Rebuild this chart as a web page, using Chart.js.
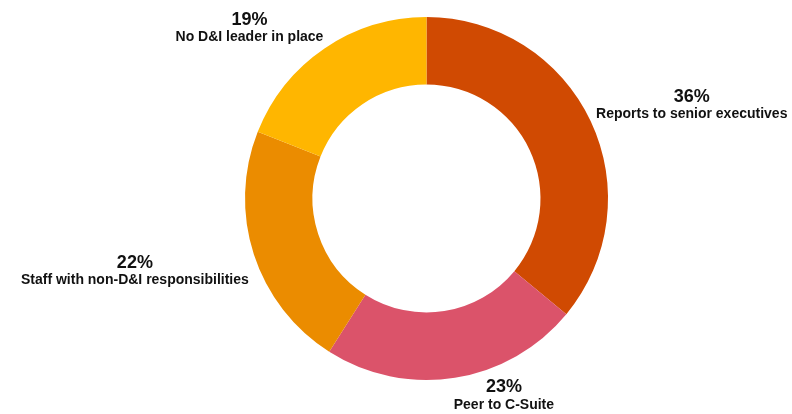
<!DOCTYPE html>
<html>
<head>
<meta charset="utf-8">
<script src="https://cdn.jsdelivr.net/npm/chart.js@4"></script>
<style>
  html, body { margin: 0; padding: 0; background: #fff; }
  #wrap { width: 792px; height: 414px; position: relative; }
</style>
</head>
<body>
<div id="wrap"><canvas id="myChart"></canvas></div>
<script>
var categories = ['Reports to senior executives', 'Peer to C-Suite', 'Staff with non-D&I responsibilities', 'No D&I leader in place'];
var shares = [36, 23, 22, 19];
var sliceColors = ['#D04A02', '#DB536A', '#EB8C00', '#FFB600'];

// where each label block sits, measured from the outer midpoint of its slice
var labelShift = [[101, -16], [49, 18], [-119, 17], [-75, -20]];

var sliceLabels = {
    id: 'sliceLabels',
    afterDatasetsDraw: function (chart) {
        var ctx = chart.ctx;
        var arcs = chart.getDatasetMeta(0).data;
        ctx.save();
        ctx.fillStyle = '#111';
        ctx.textAlign = 'center';
        ctx.textBaseline = 'middle';
        arcs.forEach(function (arc, i) {
            var p = arc.getProps(['x', 'y', 'startAngle', 'endAngle', 'outerRadius'], true);
            var mid = (p.startAngle + p.endAngle) / 2;
            var cx = p.x + Math.cos(mid) * p.outerRadius + labelShift[i][0];
            var cy = p.y + Math.sin(mid) * p.outerRadius + labelShift[i][1];
            ctx.font = 'bold 18px "Liberation Sans", Arial, sans-serif';
            ctx.fillText(shares[i] + '%', cx, cy - 8.5);
            ctx.font = 'bold 14px "Liberation Sans", Arial, sans-serif';
            ctx.fillText(categories[i], cx, cy + 9);
        });
        ctx.restore();
    }
};

var ctx = document.getElementById('myChart').getContext('2d');
var myChart = new Chart(ctx, {
    type: 'doughnut',
    data: {
        labels: categories,
        datasets: [
            {
                data: shares,
                backgroundColor: sliceColors,
                borderWidth: 0,
                hoverOffset: 0
            }
        ]
    },
    options: {
        responsive: true,
        maintainAspectRatio: false,
        animation: false,
        radius: 181.5,
        cutout: '62.8%',
        layout: { padding: { top: 17, bottom: 34, left: 61, right: 0 } },
        plugins: {
            legend: { display: false },
            tooltip: { enabled: false }
        }
    },
    plugins: [sliceLabels]
});
</script>
</body>
</html>
